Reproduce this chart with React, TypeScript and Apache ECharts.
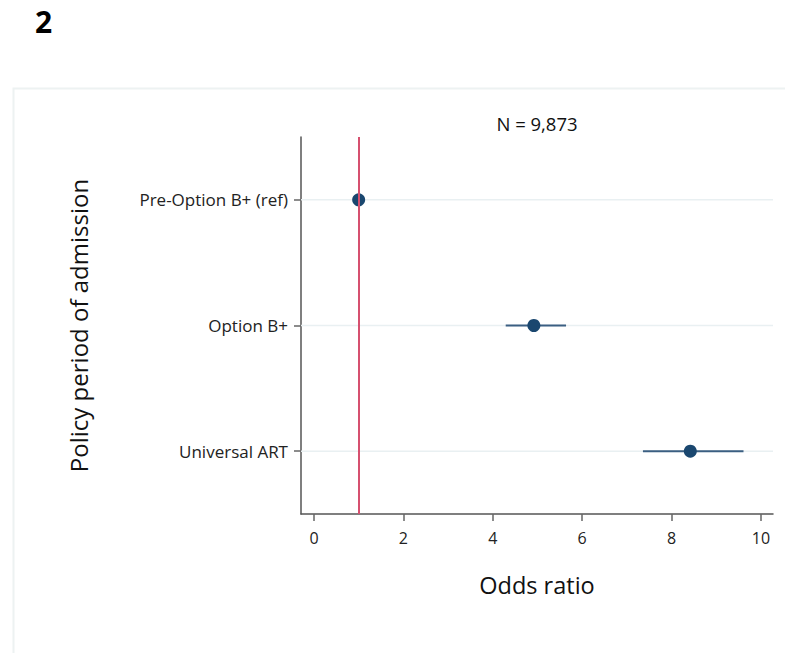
import React, { useEffect, useRef } from "react";
import * as echarts from "echarts";

const categories = ["Pre-Option B+ (ref)", "Option B+", "Universal ART"];
const oddsRatios = [1, 4.92, 8.42];
const ciLower = [1, 4.29, 7.36];
const ciUpper = [1, 5.64, 9.61];
const xTicks = [0, 2, 4, 6, 8, 10];
const referenceValue = 1;
const panelLabel = "2";
const sampleLabel = "N = 9,873";

const FONT = "'Open Sans', 'Noto Sans', sans-serif";

export default function App() {
  const ref = useRef<HTMLDivElement>(null);
  useEffect(() => {
    if (!ref.current) return;
    const chart = echarts.init(ref.current, undefined, { renderer: "svg" });
    const navy = "#1a476f";
    chart.setOption({
      animation: false,
      backgroundColor: "#ffffff",
      grid: { left: 301, top: 137, width: 472, height: 377, containLabel: false },
      graphic: [
        {
          type: "rect",
          shape: { x: 13.5, y: 88.5, width: 820, height: 620 },
          style: { fill: "none", stroke: "#edf2f2", lineWidth: 2 },
          silent: true,
          z: 0,
        },
        {
          type: "text",
          x: 35,
          y: 21,
          style: {
            text: panelLabel,
            font: `bold 30px ${FONT}`,
            fill: "#000",
            align: "left",
            verticalAlign: "middle",
          },
        },
        {
          type: "text",
          x: 537,
          y: 123,
          style: {
            text: sampleLabel,
            font: `18.5px ${FONT}`,
            fill: "#111",
            align: "center",
            verticalAlign: "middle",
          },
        },
      ],
      xAxis: {
        type: "value",
        min: -0.29,
        max: 10.27,
        name: "Odds ratio",
        nameLocation: "middle",
        nameGap: 59,
        nameTextStyle: { fontFamily: FONT, fontSize: 23.5, color: "#111" },
        axisLine: { show: true, onZero: false, lineStyle: { color: "#555", width: 1.5 } },
        axisTick: { show: true, length: 7, customValues: xTicks, lineStyle: { color: "#666", width: 1.5 } },
        axisLabel: {
          customValues: xTicks,
          margin: 16,
          fontFamily: FONT,
          fontSize: 16,
          color: "#222",
        },
        splitLine: { show: false },
      },
      yAxis: {
        type: "category",
        data: categories,
        inverse: true,
        name: "Policy period of admission",
        nameLocation: "middle",
        nameGap: 211,
        nameTextStyle: { fontFamily: FONT, fontSize: 24, color: "#111" },
        axisLine: { show: true, onZero: false, lineStyle: { color: "#555", width: 1.5 } },
        axisTick: { show: true, alignWithLabel: true, length: 7, lineStyle: { color: "#666", width: 1.5 } },
        axisLabel: { margin: 13, fontFamily: FONT, fontSize: 17, color: "#222" },
        splitLine: { show: false },
      },
      series: [
        {
          type: "custom",
          name: "grid",
          z: 1,
          silent: true,
          data: categories.map((_, i) => [0, i]),
          encode: { x: 0, y: 1 },
          renderItem: (params: any, api: any) => {
            const cs = params.coordSys;
            const y = api.coord([0, api.value(1)])[1];
            return {
              type: "line",
              shape: { x1: cs.x, y1: y, x2: cs.x + cs.width, y2: y },
              style: { stroke: "#e9f0f2", lineWidth: 1.5 },
            };
          },
          markLine: {
            silent: true,
            symbol: "none",
            label: { show: false },
            lineStyle: { color: "#d6506f", width: 2, type: "solid" },
            data: [{ xAxis: referenceValue }],
          },
        },
        {
          type: "custom",
          name: "ci",
          z: 3,
          data: categories.map((_, i) => [ciLower[i], ciUpper[i], i]),
          encode: { x: [0, 1], y: 2 },
          renderItem: (params: any, api: any) => {
            const a = api.coord([api.value(0), api.value(2)]);
            const b = api.coord([api.value(1), api.value(2)]);
            return {
              type: "line",
              shape: { x1: a[0], y1: a[1], x2: b[0], y2: b[1] },
              style: { stroke: "#3b5f82", lineWidth: 2 },
            };
          },
        },
        {
          type: "scatter",
          name: "Odds ratio",
          z: 4,
          symbol: "circle",
          symbolSize: 13,
          itemStyle: { color: navy, opacity: 1 },
          data: categories.map((_, i) => [oddsRatios[i], i]),
        },
      ],
    });
    return () => chart.dispose();
  }, []);
  return (
    <div
      ref={ref}
      style={{ position: "fixed", left: 0, top: 0, width: 785, height: 653 }}
    />
  );
}
